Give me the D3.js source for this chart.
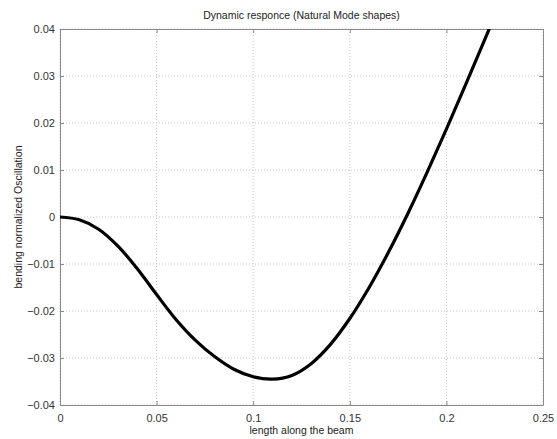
<!DOCTYPE html>
<html>
<head>
<meta charset="utf-8">
<script src="https://cdn.jsdelivr.net/npm/d3@7"></script>
<style>
  body { margin: 0; background: #fff; }
  text { font-family: "Liberation Sans", Arial, sans-serif; fill: #222; }
</style>
</head>
<body>
<div id="chart"></div>
<script>
// curve: position along beam (x) and normalized bending (y)
var beamX = [0, 0.01, 0.02, 0.03, 0.04, 0.05, 0.06, 0.07, 0.08, 0.09, 0.10, 0.11,
             0.12, 0.13, 0.14, 0.15, 0.16, 0.17, 0.18, 0.19, 0.20, 0.21, 0.22, 0.23];
var bendY = [0, -0.0006, -0.0026, -0.0062, -0.0110, -0.0165, -0.0218, -0.0262, -0.0297, -0.0324, -0.0340, -0.0345,
             -0.0337, -0.0312, -0.0271, -0.0216, -0.0150, -0.0075, 0.0007, 0.0095, 0.0187, 0.0282, 0.0379, 0.0477];
var xTicks = [0, 0.05, 0.1, 0.15, 0.2, 0.25];
var yTicks = [-0.04, -0.03, -0.02, -0.01, 0, 0.01, 0.02, 0.03, 0.04];

var width = 557, height = 439;
var margin = {top: 29, right: 14, bottom: 34, left: 60};
var w = width - margin.left - margin.right;
var h = height - margin.top - margin.bottom;

var svg = d3.select("#chart").append("svg")
    .attr("width", width)
    .attr("height", height);

var x = d3.scaleLinear().domain([0, 0.25]).range([0, w]);
var y = d3.scaleLinear().domain([-0.04, 0.04]).range([h, 0]);

var g = svg.append("g").attr("transform", "translate(" + margin.left + "," + margin.top + ")");

// grid
g.selectAll(".vgrid").data(xTicks).enter().append("line")
    .attr("x1", function(d){ return x(d); }).attr("x2", function(d){ return x(d); })
    .attr("y1", 0).attr("y2", h)
    .attr("stroke", "#c8c8c8").attr("stroke-dasharray", "1,2");
g.selectAll(".hgrid").data(yTicks).enter().append("line")
    .attr("y1", function(d){ return y(d); }).attr("y2", function(d){ return y(d); })
    .attr("x1", 0).attr("x2", w)
    .attr("stroke", "#c8c8c8").attr("stroke-dasharray", "1,2");

// axes, ticks pointing inward like matlab
var fmt = function(d){ return d === 0 ? "0" : d3.format("")(+d.toFixed(2)); };
var xAxis = g.append("g").attr("transform", "translate(0," + h + ")")
    .call(d3.axisBottom(x).tickValues(xTicks).tickSizeInner(-4).tickSizeOuter(0).tickPadding(9).tickFormat(fmt));
var yAxis = g.append("g")
    .call(d3.axisLeft(y).tickValues(yTicks).tickSizeInner(-4).tickSizeOuter(0).tickPadding(5).tickFormat(fmt));
var xTop = g.append("g")
    .call(d3.axisTop(x).tickValues(xTicks).tickSizeInner(-4).tickSizeOuter(0).tickFormat(""));
var yRight = g.append("g").attr("transform", "translate(" + w + ",0)")
    .call(d3.axisRight(y).tickValues(yTicks).tickSizeInner(-4).tickSizeOuter(0).tickFormat(""));
[xAxis, yAxis, xTop, yRight].forEach(function(a){
    a.selectAll("path, line").attr("stroke", "#8a8a8a");
    a.selectAll("text").attr("font-size", 11).style("fill", "#333")
        .attr("font-family", "Liberation Sans, Arial, sans-serif");
});

// curve
g.append("clipPath").attr("id", "clip").append("rect").attr("width", w).attr("height", h);
var pts = beamX.map(function(d, i){ return [d, bendY[i]]; });
g.append("path")
    .datum(pts)
    .attr("clip-path", "url(#clip)")
    .attr("fill", "none")
    .attr("stroke", "#000")
    .attr("stroke-width", 3.2)
    .attr("d", d3.line()
        .x(function(d){ return x(d[0]); })
        .y(function(d){ return y(d[1]); })
        .curve(d3.curveCatmullRom));

// labels
svg.append("text").attr("x", margin.left + w / 2).attr("y", 19)
    .attr("text-anchor", "middle").attr("font-size", 10.5)
    .text("Dynamic responce (Natural Mode shapes)");
svg.append("text").attr("x", margin.left + w / 2).attr("y", 434)
    .attr("text-anchor", "middle").attr("font-size", 10.5)
    .text("length along the beam");
svg.append("text")
    .attr("transform", "translate(22," + (margin.top + h / 2) + ") rotate(-90)")
    .attr("text-anchor", "middle").attr("font-size", 10.5)
    .text("bending normalized Oscillation");
</script>
</body>
</html>
